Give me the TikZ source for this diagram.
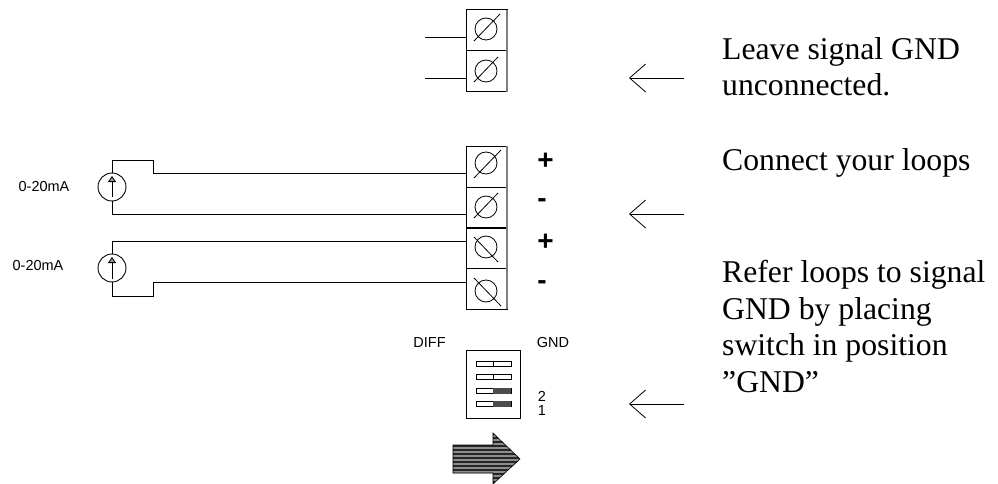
\documentclass[tikz,border=0pt]{standalone}
\usepackage{fontspec}
\setmainfont{Liberation Serif}
\setsansfont{Liberation Sans}
\usetikzlibrary{arrows.meta}
\tikzset{
    wire/.style={line width=0.9pt},
    cell/.style={draw, line width=1pt, minimum width=41pt, minimum height=41pt, inner sep=0pt, outer sep=0pt},
    source/.style={draw, circle, line width=0.9pt, minimum size=28pt, inner sep=0pt, outer sep=0pt},
    note/.style={font=\fontsize{31.7}{36.5}\selectfont, align=left, anchor=north west, inner sep=0pt},
    small/.style={font=\sffamily\fontsize{14.5}{16}\selectfont, inner sep=0pt},
    sign/.style={font=\sffamily\bfseries\fontsize{28}{30}\selectfont, inner sep=0pt},
    pointer/.style={line width=0.8pt, {Straight Barb[length=16pt,width=28pt,line width=0.8pt]}-},
    current/.style={wire, -{Triangle[open, length=6pt, width=8pt, line width=0.8pt, fill=black!40]}}
}
\begin{document}
\begin{tikzpicture}[x=1pt, y=-1pt]
    \useasboundingbox (0,0) rectangle (998,484);

    % Top terminals
    \node[cell] (t1) at (486.5,30.5) {};
    \node[cell] (t2) at (486.5,71.5) {};
    \coordinate (l1) at (425,37);
    \coordinate (l2) at (425,78);
    \draw[wire] (l1) -- (l1 -| t1.west);
    \draw[wire] (l2) -- (l2 -| t2.west);

    % Loop terminals
    \node[cell] (t3) at (486.5,166.5) {};
    \node[cell] (t4) at (486.5,207.5) {};
    \node[cell] (t5) at (486.5,248) {};
    \node[cell] (t6) at (486.5,288.5) {};
    \draw[line width=1.6pt] (t4.south west) -- (t4.south east);
    \draw[line width=1.4pt, black!50] (t1.north east) -- (t2.south east);
    \draw[line width=1.4pt, black!50] (t3.north east) -- (t6.south east);

    % Screws
    \foreach \cx/\cy/\ax/\ay/\bx/\by in {
        486/29/474/41/500/14, 486/71/474/82/498/57,
        486/163/474/178/501/150, 486/207/474/218/498/193,
        486/247/474/237/498/262, 486/291/474/278/501/306} {
        \draw[line width=0.8pt] (\cx,\cy) circle (11pt);
        \draw[line width=0.8pt] (\ax,\ay) -- (\bx,\by);
    }

    % Current sources
    \node[source] (s1) at (112,187) {};
    \node[source] (s2) at (112,268) {};
    \node[small] (m1) at (44,187) {0-20mA};
    \node[small] (m2) at (38,266) {0-20mA};
    \coordinate (a1) at (112,197);
    \coordinate (b1) at (112,176);
    \coordinate (a2) at (112,279);
    \coordinate (b2) at (112,257);
    \draw[current] (a1) -- (b1);
    \draw[current] (a2) -- (b2);

    % Loops
    \coordinate (l3) at (466,173);
    \coordinate (l4) at (466,214);
    \coordinate (l5) at (466,241);
    \coordinate (l6) at (466,282);
    \draw[wire] (s1.north) |- (153,160) |- (l3);
    \draw[wire] (s1.south) |- (l4);
    \draw[wire] (s2.north) |- (l5);
    \draw[wire] (s2.south) |- (153,296) |- (l6);

    % Signs
    \node[sign] (p1) at (545.5,161) {+};
    \node[sign] (n1) at (542,203) {-};
    \node[sign] (p2) at (545.5,242) {+};
    \node[sign] (n2) at (542,285) {-};

    % Switch
    \node[draw, line width=0.9pt, minimum width=54pt, minimum height=68pt, inner sep=0pt, outer sep=0pt] (sw) at (493,384) {};
    \foreach \y in {364,377,391,404} {
        \draw[line width=0.8pt] (476,\y-2.7) rectangle (511,\y+2.7);
        \draw[line width=0.8pt] (493,\y-2.7) -- (493,\y+2.7);
    }
    \foreach \y in {391,404} {
        \fill[black!70] (493,\y-2.7) rectangle (511,\y+2.7);
    }
    \node[small] (diff) at (429.5,343) {DIFF};
    \node[small] (gnd) at (553,343) {GND};
    \node[small] (two) at (542,396) {2};
    \node[small] (one) at (542,411) {1};

    % Big arrow
    \begin{scope}
        \clip (453,445) -- (493,445) -- (493,433) -- (520,459) -- (493,484) -- (493,473) -- (453,473) -- cycle;
        \fill[black!45] (450,430) rectangle (525,484);
        \foreach \y in {434,438,...,482} {
            \draw[line width=2.8pt, black!85] (450,\y) -- (525,\y);
        }
    \end{scope}
    \draw[line width=0.6pt] (453,445) -- (493,445) -- (493,433) -- (520,459) -- (493,484) -- (493,473) -- (453,473) -- cycle;

    % Pointers
    \foreach \y/\name in {78/a, 214/b, 404/c} {
        \coordinate (tip\name) at (629,\y);
        \coordinate (end\name) at (684,\y);
        \draw[pointer] (tip\name) -- (end\name);
    }

    % Notes
    \node[note] (n1a) at (722,37) {Leave signal GND\\unconnected.};
    \node[note] (n2a) at (722,148) {Connect your loops};
    \node[note] (n3a) at (722,260) {Refer loops to signal\\GND by placing\\switch in position\\”GND”};
\end{tikzpicture}
\end{document}
